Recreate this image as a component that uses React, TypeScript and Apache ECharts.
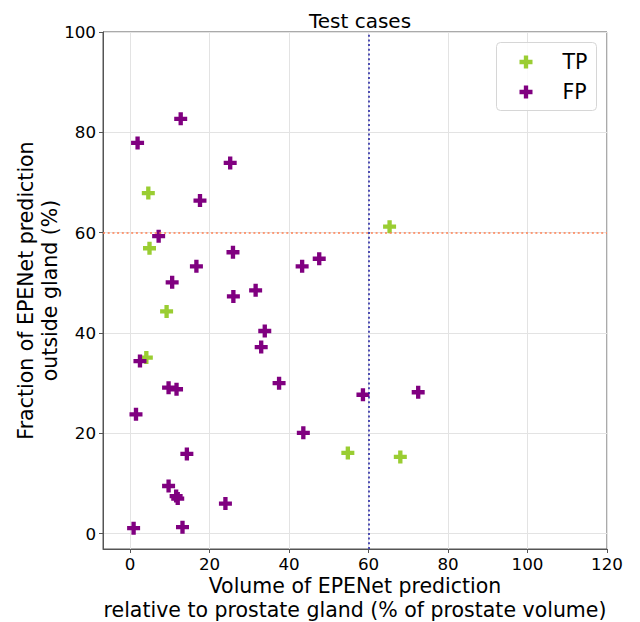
import React, { useEffect, useRef } from "react";
import * as echarts from "echarts";

const tpX = [4.6, 4.9, 9.2, 4.1, 54.8, 68.0, 65.3];
const tpY = [67.9, 56.9, 44.3, 35.1, 16.1, 15.3, 61.2];

const fpX = [12.75, 1.9, 25.2, 17.6, 7.2, 25.9, 16.7, 43.3, 47.6, 10.6, 26.0, 31.6, 33.9, 33.0, 2.5, 37.5, 9.7, 11.7, 58.6, 1.5, 43.6, 14.3, 9.7, 11.6, 12.0, 24.0, 0.9, 13.2, 72.5];
const fpY = [82.7, 77.9, 73.9, 66.4, 59.3, 56.1, 53.3, 53.3, 54.8, 50.1, 47.3, 48.5, 40.4, 37.2, 34.4, 30.0, 29.1, 28.8, 27.7, 23.8, 20.1, 15.9, 9.5, 7.5, 7.0, 6.0, 1.1, 1.3, 28.2];

const xTicks = [0, 20, 40, 60, 80, 100, 120];
const yTicks = [0, 20, 40, 60, 80, 100];
const thresholdX = 60;
const thresholdY = 60;

const PLUS = "path://M4,0H8V4H12V8H8V12H4V8H0V4H4Z";
const FONT = "DejaVu Sans";

export default function App() {
  const ref = useRef<HTMLDivElement>(null);
  useEffect(() => {
    if (!ref.current) return;
    const chart = echarts.init(ref.current, null, { renderer: "svg" });
    const zip = (xs: number[], ys: number[]) => xs.map((x, i) => [x, ys[i]]);
    chart.setOption({
      animation: false,
      textStyle: { fontFamily: FONT },
      title: {
        text: "Test cases",
        left: 355,
        textAlign: "center",
        top: 6,
        textStyle: { fontFamily: FONT, fontSize: 20, fontWeight: "normal", color: "#000" },
      },
      grid: {
        left: 103,
        right: 33,
        top: 32,
        bottom: 73,
        show: true,
        borderColor: "#555",
        borderWidth: 1,
        backgroundColor: "transparent",
        containLabel: false,
        outerBoundsMode: "none",
      },
      graphic: [
        {
          type: "rect",
          shape: { x: 496.5, y: 42.5, width: 100, height: 68, r: 4 },
          style: { fill: "rgba(255,255,255,0.8)", stroke: "#d6d6d6", lineWidth: 1 },
          z: 10,
        },
      ],
      legend: {
        orient: "vertical",
        left: 519.5,
        top: 50,
        padding: 0,
        itemWidth: 13,
        itemHeight: 13,
        itemGap: 6,
        textStyle: { fontFamily: FONT, fontSize: 20.5, color: "#000", lineHeight: 24, padding: [0, 0, 0, 25] },
        data: ["TP", "FP"],
        z: 11,
      },
      xAxis: {
        type: "value",
        min: -6.8,
        max: 120,
        minInterval: 20,
        maxInterval: 20,
        splitNumber: 6,
        name: "Volume of EPENet prediction\nrelative to prostate gland (% of prostate volume)",
        nameLocation: "middle",
        nameGap: 25,
        nameMoveOverlap: false,
        nameTextStyle: { fontFamily: FONT, fontSize: 20.5, color: "#000", lineHeight: 24 },
        axisLine: { show: true, onZero: false, lineStyle: { color: "#555" } },
        axisTick: { show: true, length: 4, lineStyle: { color: "#555" }, customValues: xTicks },
        axisLabel: { fontFamily: FONT, fontSize: 16.7, color: "#000", margin: 6, customValues: xTicks },
        splitLine: { show: true, lineStyle: { color: "#e3e3e3", width: 1 } },
      },
      yAxis: {
        type: "value",
        min: -3.05,
        max: 100,
        minInterval: 20,
        maxInterval: 20,
        splitNumber: 5,
        name: "Fraction of EPENet prediction\noutside gland (%)",
        nameLocation: "middle",
        nameRotate: 90,
        nameGap: 41,
        nameMoveOverlap: false,
        nameTextStyle: { fontFamily: FONT, fontSize: 20.5, color: "#000", lineHeight: 24 },
        axisLine: { show: true, onZero: false, lineStyle: { color: "#555" } },
        axisTick: { show: true, length: 4, lineStyle: { color: "#555" }, customValues: yTicks },
        axisLabel: { fontFamily: FONT, fontSize: 16.7, color: "#000", margin: 7, customValues: yTicks },
        splitLine: { show: true, lineStyle: { color: "#e3e3e3", width: 1 } },
      },
      series: [
        {
          name: "TP",
          type: "scatter",
          symbol: PLUS,
          symbolSize: 13,
          itemStyle: { color: "#9ACD32", opacity: 1 },
          data: zip(tpX, tpY),
          markLine: {
            silent: true,
            symbol: "none",
            label: { show: false },
            animation: false,
            data: [
              { yAxis: thresholdY, lineStyle: { color: "#FF7F50", width: 1.5, type: [2, 2.7] } },
              { xAxis: thresholdX, lineStyle: { color: "#1a1aa0", width: 1.5, type: [2, 2.7] } },
            ],
          },
        },
        {
          name: "FP",
          type: "scatter",
          symbol: PLUS,
          symbolSize: 13,
          itemStyle: { color: "#800080", opacity: 1 },
          data: zip(fpX, fpY),
        },
      ],
    });
    return () => chart.dispose();
  }, []);
  return <div ref={ref} style={{ width: 640, height: 622, position: "absolute", left: 0, top: 0 }} />;
}
